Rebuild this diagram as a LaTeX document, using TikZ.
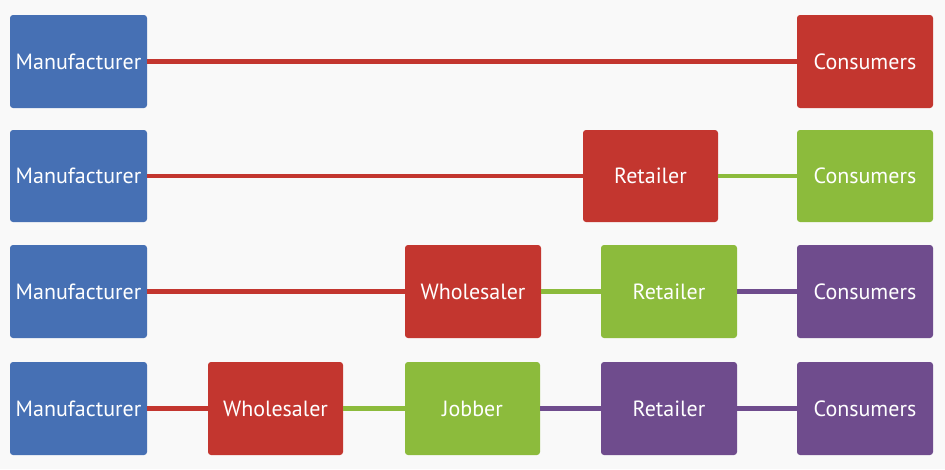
\documentclass[tikz,border=0pt]{standalone}
\usepackage{fontspec}
\setmainfont{PT Sans}
\begin{document}
\begin{tikzpicture}[x=1pt,y=-1pt,
  box/.style={rounded corners=3pt,text=white,font=\fontsize{22}{26}\selectfont,inner sep=0pt,draw=none},
  bl/.style={fill=blue1},rd/.style={fill=red1},gr/.style={fill=green1},pu/.style={fill=purple1},
  ln/.style={line width=4.5pt}]
\definecolor{blue1}{HTML}{4670B4}
\definecolor{red1}{HTML}{C3362F}
\definecolor{green1}{HTML}{8CBB3C}
\definecolor{purple1}{HTML}{6F4C8D}
\fill[white!95!gray] (0,0) rectangle (945,469);
\useasboundingbox (0,0) rectangle (945,469);
% row 1
\node[box,bl,minimum width=137,minimum height=93] (m1) at (78.5,61.5) {Manufacturer};
\node[box,rd,minimum width=136,minimum height=93] (c1) at (865,61.5) {Consumers};
\draw[ln,red1] (m1) -- (c1);
% row 2
\node[box,bl,minimum width=137,minimum height=92] (m2) at (78.5,176) {Manufacturer};
\node[box,rd,minimum width=135,minimum height=92] (r2) at (650.5,176) {Retailer};
\node[box,gr,minimum width=136,minimum height=92] (c2) at (865,176) {Consumers};
\draw[ln,red1] (m2) -- (r2);
\draw[ln,green1] (r2) -- (c2);
% row 3
\node[box,bl,minimum width=137,minimum height=93] (m3) at (78.5,291.5) {Manufacturer};
\node[box,rd,minimum width=136,minimum height=93] (w3) at (473,291.5) {Wholesaler};
\node[box,gr,minimum width=136,minimum height=93] (r3) at (669,291.5) {Retailer};
\node[box,pu,minimum width=136,minimum height=93] (c3) at (865,291.5) {Consumers};
\draw[ln,red1] (m3) -- (w3);
\draw[ln,green1] (w3) -- (r3);
\draw[ln,purple1] (r3) -- (c3);
% row 4
\node[box,bl,minimum width=137,minimum height=93] (m4) at (78.5,408.5) {Manufacturer};
\node[box,rd,minimum width=135,minimum height=93] (w4) at (275.5,408.5) {Wholesaler};
\node[box,gr,minimum width=135,minimum height=93] (j4) at (472.5,408.5) {Jobber};
\node[box,pu,minimum width=136,minimum height=93] (r4) at (669,408.5) {Retailer};
\node[box,pu,minimum width=136,minimum height=93] (c4) at (865,408.5) {Consumers};
\draw[ln,red1] (m4) -- (w4);
\draw[ln,green1] (w4) -- (j4);
\draw[ln,purple1] (j4) -- (r4);
\draw[ln,purple1] (r4) -- (c4);
\end{tikzpicture}
\end{document}
